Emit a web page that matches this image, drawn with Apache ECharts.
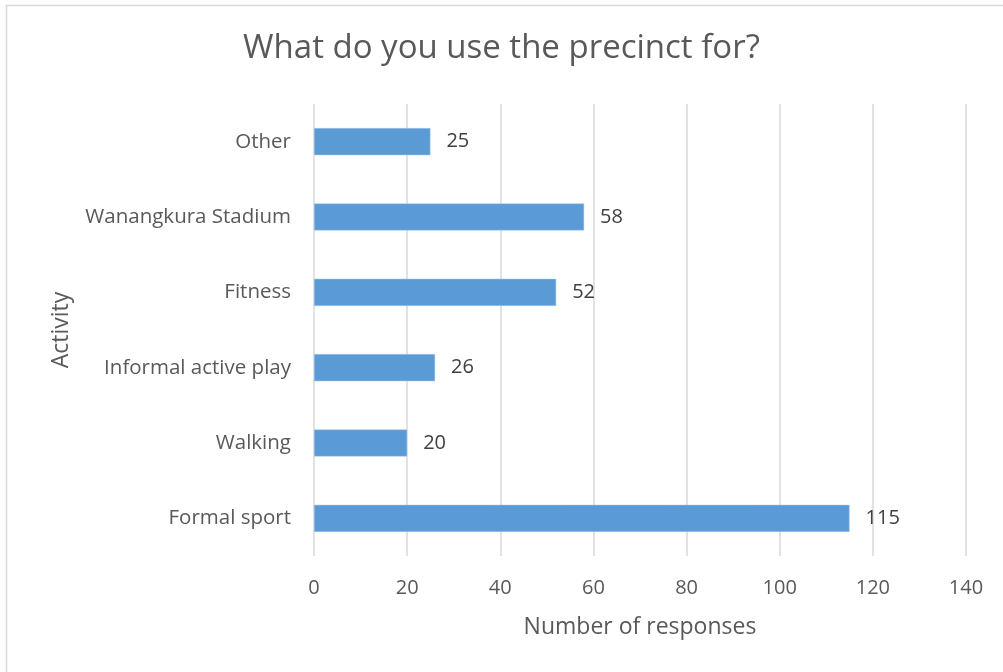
<!DOCTYPE html>
<html>
<head>
<meta charset="utf-8">
<script src="https://cdn.jsdelivr.net/npm/echarts@6/dist/echarts.min.js"></script>
<style>
  html, body { margin: 0; padding: 0; background: #fff; }
  #chart { width: 1003px; height: 672px; }
</style>
</head>
<body>
<div id="chart"></div>
<script>
// Survey responses per activity (bottom to top on the chart)
const categories = ['Formal sport', 'Walking', 'Informal active play', 'Fitness', 'Wanangkura Stadium', 'Other'];
const responses = [115, 20, 26, 52, 58, 25];
const xTicks = { min: 0, max: 140, interval: 20 };

const FONT = '"Open Sans", "Noto Sans", sans-serif';
const TEXT = '#595959';

const chart = echarts.init(document.getElementById('chart'));
chart.setOption({
  animation: false,
  backgroundColor: '#ffffff',
  graphic: [{
    type: 'rect',
    shape: { x: 6.5, y: 5.5, width: 1000, height: 700 },
    style: { fill: 'none', stroke: '#d9d9d9', lineWidth: 1.5 },
    silent: true
  }],
  title: {
    text: 'What do you use the precinct for?',
    left: 'center',
    top: 27,
    textStyle: { fontFamily: FONT, fontSize: 33, fontWeight: 'normal', color: TEXT }
  },
  grid: { left: 314, right: 37, top: 104, bottom: 116, containLabel: false },
  xAxis: {
    type: 'value',
    min: xTicks.min,
    max: xTicks.max,
    interval: xTicks.interval,
    name: 'Number of responses',
    nameLocation: 'middle',
    nameGap: 60,
    nameTextStyle: { fontFamily: FONT, fontSize: 23, color: TEXT },
    axisLine: { show: false },
    axisTick: { show: false },
    axisLabel: { fontFamily: FONT, fontSize: 20, color: TEXT, margin: 22 },
    splitLine: { show: true, lineStyle: { color: '#d9d9d9', width: 1.5 } }
  },
  yAxis: {
    type: 'category',
    data: categories,
    name: 'Activity',
    nameLocation: 'middle',
    nameGap: 241,
    nameRotate: 90,
    nameTextStyle: { fontFamily: FONT, fontSize: 23, color: TEXT },
    axisLine: { show: false },
    axisTick: { show: false },
    axisLabel: { fontFamily: FONT, fontSize: 20.5, color: TEXT, margin: 23 }
  },
  series: [{
    type: 'bar',
    data: responses,
    barWidth: '36%',
    itemStyle: { color: '#5b9bd5', borderColor: '#a9c8ea', borderWidth: 0.5 },
    label: {
      show: true,
      position: 'right',
      distance: 16,
      fontFamily: FONT,
      fontSize: 20,
      color: '#404040'
    }
  }]
});
</script>
</body>
</html>
